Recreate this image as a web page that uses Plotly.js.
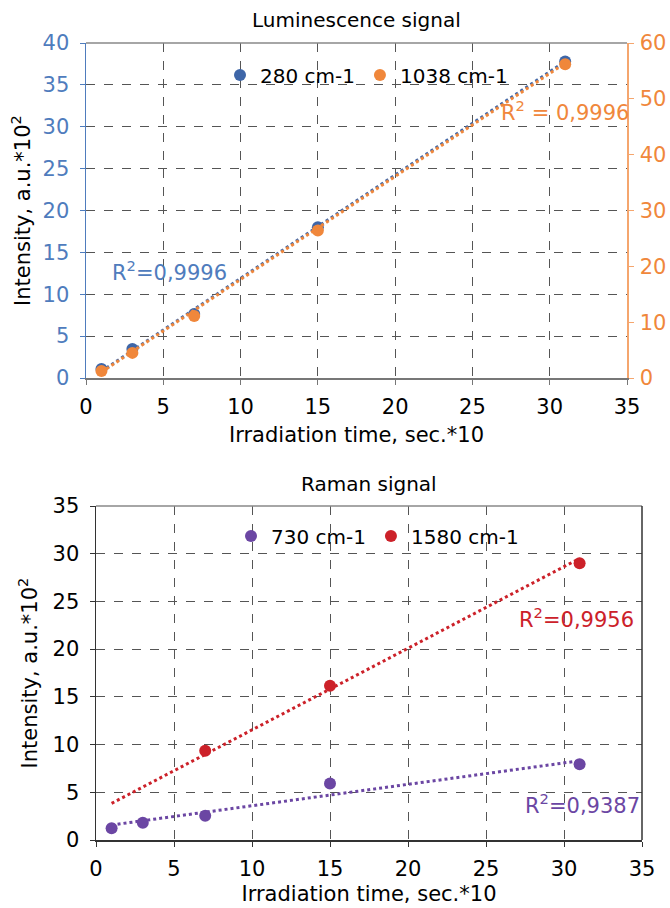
<!DOCTYPE html>
<html><head><meta charset="utf-8">
<script src="https://cdn.plot.ly/plotly-3.0.1.min.js"></script>
<style>html,body{margin:0;padding:0;background:#fff}#chart{width:670px;height:908px}</style>
</head><body><div id="chart"></div>
<script>
// ---- data ----
const timeX = [1, 3, 7, 15, 31];
const lum280 = [1.07, 3.46, 7.64, 18.0, 37.8];        // left axis
const lum1038 = [1.25, 4.5, 11.1, 26.4, 56.2];        // right axis
const trendX = [1, 31];
const lum280Trend = [0.8, 37.8];
const lum1038Trend = [1.05, 56.4];
const lumR2Labels = ['R<sup>2</sup>=0,9996', 'R<sup>2</sup> = 0,9996'];

const ramX730 = [1, 3, 7, 15, 31];
const raman730 = [1.22, 1.81, 2.55, 5.93, 7.93];
const ramX1580 = [7, 15, 31];
const raman1580 = [9.35, 16.16, 29.0];
const raman730Trend = [1.57, 8.3];
const raman1580Trend = [3.84, 29.5];
const ramR2Labels = ['R<sup>2</sup>=0,9956', 'R<sup>2</sup>=0,9387'];

const seriesNames = ['280 cm-1', '1038 cm-1', '730 cm-1', '1580 cm-1'];
const titles = ['Luminescence signal', 'Raman signal'];
const xTitle = 'Irradiation time, sec.*10';
const yTitle = 'Intensity, a.u.*10<sup>2</sup>';

// ---- style ----
const C_BLUE = '#3e66a8', C_BLUE_AX = '#4f7cbd', C_ORANGE = '#f0873b', C_PURPLE = '#6b46a3', C_RED = '#cc2129';
const FONT = 'DejaVu Sans, Liberation Sans, Arial, sans-serif';
const W = 670, H = 908;
const px = v => v / W, py = v => 1 - v / H;

const traces = [
  {x: trendX, y: lum280Trend, xaxis: 'x', yaxis: 'y', mode: 'lines', line: {color: C_BLUE, dash: 'dot', width: 3}, showlegend: false, hoverinfo: 'skip'},
  {x: trendX, y: lum1038Trend, xaxis: 'x', yaxis: 'y3', mode: 'lines', line: {color: C_ORANGE, dash: 'dot', width: 3}, showlegend: false, hoverinfo: 'skip'},
  {x: timeX, y: lum280, xaxis: 'x', yaxis: 'y', mode: 'markers', name: seriesNames[0], marker: {color: C_BLUE, size: 12}, legend: 'legend'},
  {x: timeX, y: lum1038, xaxis: 'x', yaxis: 'y3', mode: 'markers', name: seriesNames[1], marker: {color: C_ORANGE, size: 12}, legend: 'legend'},
  {x: trendX, y: raman730Trend, xaxis: 'x2', yaxis: 'y2', mode: 'lines', line: {color: C_PURPLE, dash: 'dot', width: 3}, showlegend: false, hoverinfo: 'skip'},
  {x: trendX, y: raman1580Trend, xaxis: 'x2', yaxis: 'y2', mode: 'lines', line: {color: C_RED, dash: 'dot', width: 3}, showlegend: false, hoverinfo: 'skip'},
  {x: ramX730, y: raman730, xaxis: 'x2', yaxis: 'y2', mode: 'markers', name: seriesNames[2], marker: {color: C_PURPLE, size: 12}, legend: 'legend2'},
  {x: ramX1580, y: raman1580, xaxis: 'x2', yaxis: 'y2', mode: 'markers', name: seriesNames[3], marker: {color: C_RED, size: 12}, legend: 'legend2'}
];

const grid = {showgrid: true, gridcolor: '#555', griddash: 'dash', gridwidth: 1, zeroline: false};
const tickf = {family: FONT, size: 21, color: '#000'};
const titf = {family: FONT, size: 21, color: '#000'};

const layout = {
  width: W, height: H, margin: {l: 0, r: 0, t: 0, b: 0},
  paper_bgcolor: '#fff', plot_bgcolor: '#fff',
  font: {family: FONT, color: '#000'},
  xaxis: Object.assign({}, grid, {domain: [px(86), px(627)], range: [0, 35], dtick: 5, anchor: 'y', tickfont: tickf,
    showline: true, linecolor: '#777', linewidth: 1.5, ticks: 'outside', ticklen: 5, tickcolor: '#777', ticklabelstandoff: 4,
    title: {text: xTitle, font: titf, standoff: 9}, automargin: false}),
  yaxis: Object.assign({}, grid, {domain: [py(378), py(43)], range: [0, 40], dtick: 5, anchor: 'x', tickfont: Object.assign({}, tickf, {color: C_BLUE_AX}),
    showline: true, linecolor: C_BLUE_AX, linewidth: 1.5, ticks: 'outside', ticklen: 5, tickcolor: C_BLUE_AX, ticklabelstandoff: 6,
    title: {text: yTitle, font: titf, standoff: 6}, automargin: false}),
  yaxis3: {overlaying: 'y', side: 'right', anchor: 'x', range: [0, 60], dtick: 10, showgrid: false, zeroline: false,
    tickfont: Object.assign({}, tickf, {color: C_ORANGE}), showline: true, linecolor: '#f5a66e', linewidth: 1.5,
    ticks: 'outside', ticklen: 5, tickcolor: '#f5a66e', ticklabelstandoff: 2, automargin: false},
  xaxis2: Object.assign({}, grid, {domain: [px(96), px(642)], range: [0, 35], dtick: 5, anchor: 'y2', tickfont: tickf,
    showline: true, linecolor: '#333', linewidth: 1.5, ticks: 'outside', ticklen: 5, tickcolor: '#333', ticklabelstandoff: 4,
    title: {text: xTitle, font: titf, standoff: 6}, automargin: false}),
  yaxis2: Object.assign({}, grid, {domain: [py(840), py(506)], range: [0, 35], dtick: 5, anchor: 'x2', tickfont: tickf,
    showline: true, linecolor: '#333', linewidth: 1.5, ticks: 'outside', ticklen: 5, tickcolor: '#333', ticklabelstandoff: 6,
    title: {text: yTitle, font: titf, standoff: 9}, automargin: false}),
  legend: {orientation: 'h', x: px(220), y: py(75), xanchor: 'left', yanchor: 'middle', bgcolor: 'rgba(255,255,255,0)',
    font: {family: FONT, size: 20, color: '#000'}, itemwidth: 30, tracegroupgap: 0},
  legend2: {orientation: 'h', x: px(231), y: py(536), xanchor: 'left', yanchor: 'middle', bgcolor: 'rgba(255,255,255,0)',
    font: {family: FONT, size: 20, color: '#000'}, itemwidth: 30, tracegroupgap: 0},
  shapes: [
    {type: 'line', xref: 'x domain', yref: 'y domain', x0: 0, x1: 1, y0: 1, y1: 1, line: {color: '#888', width: 1.5}},
    {type: 'line', xref: 'x2 domain', yref: 'y2 domain', x0: 0, x1: 1, y0: 1, y1: 1, line: {color: '#888', width: 1.5}},
    {type: 'line', xref: 'x2 domain', yref: 'y2 domain', x0: 1, x1: 1, y0: 0, y1: 1, line: {color: '#333', width: 1.5}}
  ],
  annotations: [
    {text: titles[0], xref: 'paper', yref: 'paper', x: px(356), y: py(20), xanchor: 'center', yanchor: 'middle', showarrow: false, font: {family: FONT, size: 20, color: '#000'}},
    {text: titles[1], xref: 'paper', yref: 'paper', x: px(369), y: py(484), xanchor: 'center', yanchor: 'middle', showarrow: false, font: {family: FONT, size: 20, color: '#000'}},
    {text: lumR2Labels[0], xref: 'x', yref: 'y', x: 5.37, y: 12.8, showarrow: false, font: {family: FONT, size: 21, color: C_BLUE_AX}},
    {text: lumR2Labels[1], xref: 'x', yref: 'y3', x: 31.0, y: 47.8, showarrow: false, font: {family: FONT, size: 21, color: C_ORANGE}},
    {text: ramR2Labels[0], xref: 'x2', yref: 'y2', x: 30.8, y: 23.25, showarrow: false, font: {family: FONT, size: 21, color: C_RED}},
    {text: ramR2Labels[1], xref: 'x2', yref: 'y2', x: 31.2, y: 3.77, showarrow: false, font: {family: FONT, size: 21, color: C_PURPLE}}
  ]
};

Plotly.newPlot('chart', traces, layout, {displayModeBar: false, staticPlot: true});
</script></body></html>
